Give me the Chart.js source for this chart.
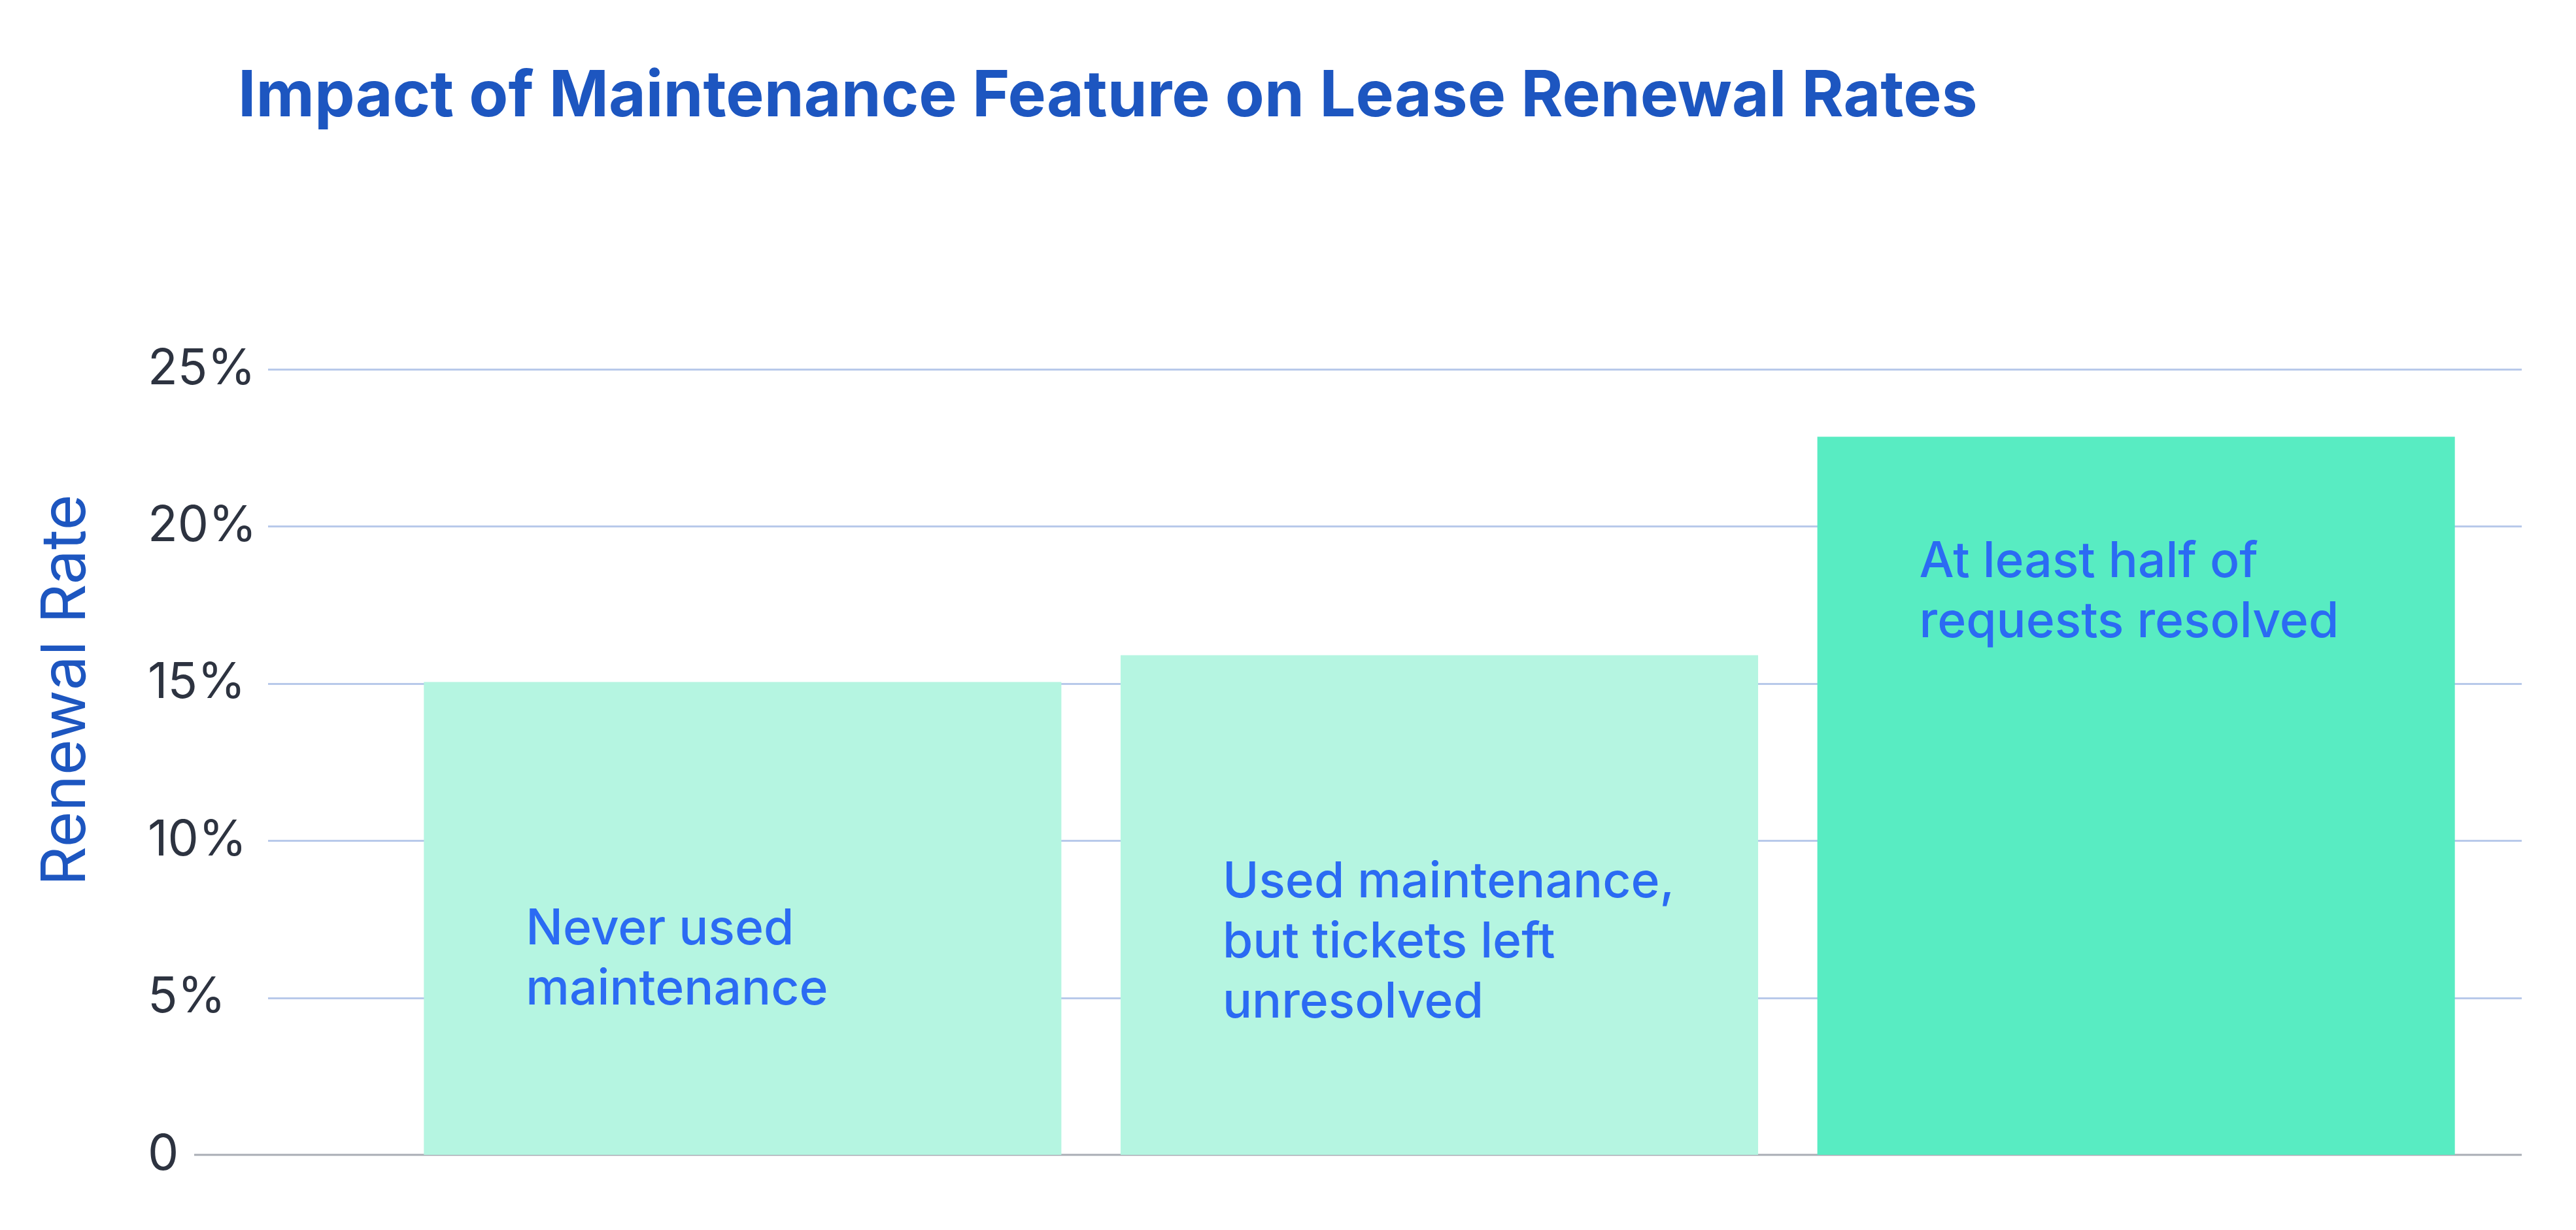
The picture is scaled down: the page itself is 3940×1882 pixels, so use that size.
<!DOCTYPE html>
<html><head><meta charset="utf-8">
<script src="https://cdn.jsdelivr.net/npm/chart.js@4"></script>
<style>html,body{margin:0;background:#fff}#w{width:3940px;height:1882px;position:relative}</style>
</head><body><div id="w"><canvas id="c"></canvas></div>
<script>
const categories = ["Never used maintenance", "Used maintenance, but tickets left unresolved", "At least half of requests resolved"];
const barLabels = [["Never used", "maintenance"], ["Used maintenance,", "but tickets left", "unresolved"], ["At least half of", "requests resolved"]];
const renewalRates = [15.05, 15.9, 22.85];
const tickLabels = ["0", "5%", "10%", "15%", "20%", "25%"];
const labelCenters = [6.2, 6.75, 17.9];
const barColors = ["#b5f5e1", "#b5f5e1", "#58ecc2"];

const FONT = "Inter, 'Open Sans', sans-serif";
const deco = {
  id: 'deco',
  beforeDatasetsDraw(chart) {
    const ctx = chart.ctx, y = chart.scales.y;
    ctx.save();
    ctx.strokeStyle = '#b8c9ea'; ctx.lineWidth = 3;
    for (let i = 1; i < tickLabels.length; i++) {
      const py = Math.round(y.getPixelForValue(i * 5)) + 0.5;
      ctx.beginPath(); ctx.moveTo(410, py); ctx.lineTo(3857, py); ctx.stroke();
    }
    ctx.strokeStyle = '#a9adb5';
    const py0 = y.getPixelForValue(0);
    ctx.beginPath(); ctx.moveTo(297, py0); ctx.lineTo(3857, py0); ctx.stroke();
    ctx.restore();
  },
  afterDraw(chart) {
    const ctx = chart.ctx, y = chart.scales.y;
    ctx.save();
    ctx.fillStyle = '#1d56c0';
    ctx.font = `bold 98px ${FONT}`;
    ctx.textBaseline = 'alphabetic';
    ctx.fillText('Impact of Maintenance Feature on Lease Renewal Rates', 364, 178);
    ctx.translate(102, (y.getPixelForValue(25) + y.getPixelForValue(0)) / 2 - 110);
    ctx.rotate(-Math.PI / 2);
    ctx.textAlign = 'center'; ctx.textBaseline = 'middle';
    ctx.font = `94px ${FONT}`;
    ctx.fillText('Renewal Rate', 0, 0);
    ctx.restore();
    ctx.save();
    ctx.fillStyle = '#2b6bf3';
    ctx.font = `500 75px ${FONT}`;
    ctx.textBaseline = 'middle';
    const meta = chart.getDatasetMeta(0);
    meta.data.forEach((bar, i) => {
      const lines = barLabels[i];
      const left = bar.x - bar.width / 2 + 156;
      const cy = y.getPixelForValue(labelCenters[i]);
      const lh = 92;
      lines.forEach((t, k) => ctx.fillText(t, left, cy + (k - (lines.length - 1) / 2) * lh));
    });
    ctx.restore();
  }
};

new Chart(document.getElementById('c'), {
  type: 'bar',
  data: { labels: categories, datasets: [{ data: renewalRates, backgroundColor: barColors, barPercentage: 0.915, categoryPercentage: 1 }] },
  options: {
    responsive: true, maintainAspectRatio: false, animation: false,
    layout: { padding: { left: 226, right: 140, top: 565, bottom: 115 } },
    plugins: { legend: { display: false }, tooltip: { enabled: false } },
    scales: {
      x: { ticks: { display: false }, grid: { display: false }, border: { display: false },
           afterFit(s) { s.height = 0; } },
      y: {
        min: 0, max: 25,
        afterBuildTicks(s) { s.ticks = tickLabels.map((_, i) => ({ value: i * 5 })); },
        afterFit(s) { s.width = 377; },
        ticks: { crossAlign: 'far', padding: 0, color: '#2d3340', font: { family: FONT, size: 75 },
                 callback: (v, i) => tickLabels[i] },
        grid: { display: false },
        border: { display: false }
      }
    }
  },
  plugins: [deco]
});
</script></body></html>
